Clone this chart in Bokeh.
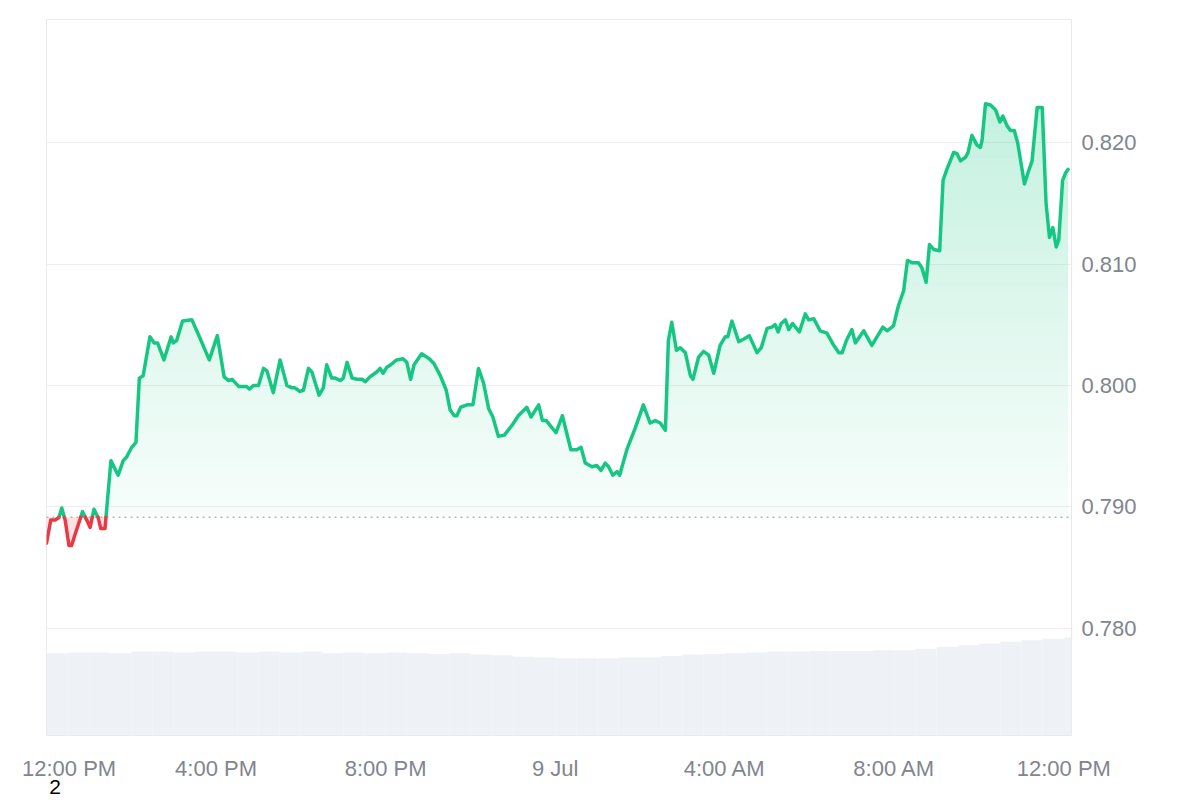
import numpy as np
from bokeh.plotting import figure
from bokeh.models import Range1d, FixedTicker, Span, NumeralTickFormatter, LinearAxis
from bokeh.embed import file_html
from bokeh.resources import INLINE

# ---------------- data ----------------
# hours since 12:00 PM, 8 Jul
hours = [0.00, 0.10, 0.20, 0.29, 0.36, 0.44, 0.53, 0.59, 0.71, 0.85, 0.95, 1.03, 1.12, 1.22, 1.28, 1.38,
         1.52, 1.69, 1.81, 1.89, 2.01, 2.11, 2.19, 2.28, 2.44, 2.54, 2.62, 2.77, 2.94, 2.99, 3.07, 3.21,
         3.43, 3.62, 3.84, 4.03, 4.19, 4.29, 4.38, 4.54, 4.72, 4.79, 4.88, 5.00, 5.12, 5.20, 5.35, 5.51,
         5.67, 5.79, 5.86, 5.98, 6.06, 6.18, 6.26, 6.43, 6.53, 6.61, 6.73, 6.81, 6.93, 7.00, 7.09, 7.21,
         7.33, 7.45, 7.52, 7.63, 7.79, 7.87, 7.94, 8.03, 8.12, 8.26, 8.41, 8.50, 8.59, 8.67, 8.85, 9.03,
         9.14, 9.29, 9.43, 9.52, 9.62, 9.68, 9.77, 9.92, 10.06, 10.19, 10.31, 10.43, 10.53, 10.66, 10.80, 10.98,
         11.13, 11.33, 11.43, 11.61, 11.70, 11.79, 12.02, 12.17, 12.37, 12.51, 12.61, 12.71, 12.87, 12.98, 13.08, 13.18,
         13.26, 13.36, 13.46, 13.52, 13.69, 13.89, 14.08, 14.24, 14.36, 14.48, 14.60, 14.67, 14.75, 14.86, 14.95, 15.07,
         15.19, 15.25, 15.38, 15.50, 15.62, 15.74, 15.89, 16.01, 16.07, 16.17, 16.33, 16.44, 16.58, 16.76, 16.86, 17.00,
         17.11, 17.19, 17.26, 17.33, 17.43, 17.51, 17.60, 17.76, 17.90, 17.98, 18.10, 18.25, 18.41, 18.57, 18.69, 18.77,
         18.87, 19.00, 19.08, 19.28, 19.47, 19.59, 19.73, 19.83, 19.98, 20.10, 20.22, 20.31, 20.42, 20.57, 20.65, 20.75,
         20.83, 20.93, 21.07, 21.15, 21.24, 21.40, 21.48, 21.56, 21.68, 21.74, 21.83, 21.95, 22.03, 22.07, 22.15, 22.27,
         22.39, 22.49, 22.56, 22.66, 22.74, 22.83, 22.91, 23.07, 23.17, 23.25, 23.37, 23.49, 23.58, 23.66, 23.74, 23.82,
         23.88, 23.97, 24.04, 24.10]

price = [0.7870, 0.7889, 0.7889, 0.7891, 0.7899, 0.7889, 0.7868, 0.7868, 0.7881, 0.7896, 0.7889, 0.7883, 0.7898, 0.7891, 0.7882, 0.7882,
         0.7938, 0.7926, 0.7938, 0.7941, 0.7949, 0.7953, 0.8006, 0.8008, 0.8040, 0.8035, 0.8035, 0.8021, 0.8040, 0.8035, 0.8037, 0.8053,
         0.8054, 0.8039, 0.8021, 0.8041, 0.8007, 0.8004, 0.8005, 0.7999, 0.7999, 0.7997, 0.8000, 0.8000, 0.8014, 0.8012, 0.7994, 0.8021,
         0.8000, 0.7998, 0.7998, 0.7995, 0.7996, 0.8014, 0.8011, 0.7992, 0.7998, 0.8017, 0.8006, 0.8006, 0.8004, 0.8006, 0.8019, 0.8006,
         0.8005, 0.8005, 0.8003, 0.8007, 0.8011, 0.8014, 0.8010, 0.8015, 0.8017, 0.8021, 0.8022, 0.8019, 0.8005, 0.8017, 0.8026, 0.8022,
         0.8018, 0.8008, 0.7996, 0.7980, 0.7975, 0.7975, 0.7982, 0.7984, 0.7984, 0.8014, 0.8002, 0.7981, 0.7974, 0.7958, 0.7959, 0.7967,
         0.7975, 0.7982, 0.7974, 0.7984, 0.7971, 0.7971, 0.7961, 0.7975, 0.7947, 0.7947, 0.7949, 0.7936, 0.7933, 0.7934, 0.7930, 0.7936,
         0.7933, 0.7926, 0.7929, 0.7926, 0.7947, 0.7965, 0.7984, 0.7969, 0.7971, 0.7969, 0.7963, 0.8037, 0.8052, 0.8029, 0.8031, 0.8027,
         0.8008, 0.8005, 0.8023, 0.8028, 0.8025, 0.8010, 0.8033, 0.8040, 0.8040, 0.8053, 0.8036, 0.8038, 0.8041, 0.8027, 0.8031, 0.8047,
         0.8048, 0.8050, 0.8044, 0.8051, 0.8054, 0.8046, 0.8051, 0.8044, 0.8059, 0.8054, 0.8055, 0.8045, 0.8043, 0.8033, 0.8027, 0.8027,
         0.8037, 0.8046, 0.8035, 0.8045, 0.8033, 0.8040, 0.8048, 0.8045, 0.8049, 0.8066, 0.8078, 0.8103, 0.8101, 0.8101, 0.8097, 0.8085,
         0.8116, 0.8112, 0.8111, 0.8169, 0.8178, 0.8192, 0.8191, 0.8185, 0.8188, 0.8192, 0.8206, 0.8198, 0.8196, 0.8202, 0.8232, 0.8231,
         0.8227, 0.8217, 0.8222, 0.8214, 0.8210, 0.8210, 0.8200, 0.8166, 0.8177, 0.8185, 0.8229, 0.8229, 0.8150, 0.8122, 0.8130, 0.8114,
         0.8120, 0.8169, 0.8175, 0.8178]

open_price = 0.78914   # dotted reference line

# volume (relative units), half-hour bars starting at these hours
vol_start = [i * 0.5 for i in range(49)]
volume = [11.5, 11.6, 11.6, 11.5, 11.7, 11.7, 11.6, 11.7, 11.7, 11.6, 11.7, 11.6, 11.7, 11.5, 11.6, 11.5,
          11.6, 11.5, 11.4, 11.5, 11.3, 11.2, 11.0, 10.9, 10.8, 10.8, 10.8, 10.9, 10.9, 11.1, 11.3, 11.4,
          11.5, 11.6, 11.7, 11.7, 11.8, 11.8, 11.8, 11.9, 11.9, 12.1, 12.4, 12.6, 12.8, 13.1, 13.3, 13.5, 13.7]

y_ticks = [0.780, 0.790, 0.800, 0.810, 0.820]
# label positions in minutes after 12:00 PM (the first label sits a little right of its time,
# as in the original, so that it is not cut at the edge)
tick_minutes = [32, 240, 480, 720, 960, 1200, 1440]
tick_labels = ["12:00 PM", "4:00 PM", "8:00 PM", "9 Jul", "4:00 AM", "8:00 AM", "12:00 PM"]
footnote_minute = 12
footnote = "2"

GREEN = "#16c784"
RED = "#ea3943"
LABEL_GREY = "#80858f"
FONT = "Liberation Sans"

minutes = [h * 60 for h in hours]

# ---------------- helpers ----------------
def with_crossings(xs, ys, level):
    ox, oy = [xs[0]], [ys[0]]
    for i in range(1, len(xs)):
        x0, y0, x1, y1 = xs[i - 1], ys[i - 1], xs[i], ys[i]
        if (y0 - level) * (y1 - level) < 0:
            t = (level - y0) / (y1 - y0)
            ox.append(x0 + t * (x1 - x0))
            oy.append(level)
        ox.append(x1)
        oy.append(y1)
    return ox, oy

# ---------------- figure ----------------
p = figure(width=1200, height=800, output_backend="svg", toolbar_location=None,
           x_range=Range1d(0, 1450.8), y_range=Range1d(0.771153, 0.830148),
           y_axis_location="right",
           min_border_left=46, min_border_right=129, min_border_top=19, min_border_bottom=65)
p.extra_y_ranges = {"vol": Range1d(0, 100)}
p.background_fill_color = "white"
p.border_fill_color = "white"
p.outline_line_color = "#e9e9e9"
p.outline_line_width = 1

# volume
p.vbar(x=[(h + 0.25) * 60 for h in vol_start], width=30, top=volume, bottom=0,
       y_range_name="vol", fill_color="#eef1f6", line_color=None)

# green vertical-gradient fill above the open price: disjoint horizontal bands
top_level = 0.8302
band = 0.0005
levels = np.arange(open_price, top_level, band)
for L in levels:
    lo, hi = L, L + band
    xk, yk = with_crossings(minutes, price, lo)
    xk, yk = with_crossings(xk, yk, hi)
    yk = np.clip(np.array(yk), lo, hi)
    a = 0.03 + 0.27 * ((lo + band / 2) - open_price) / (top_level - open_price)
    p.varea(x=np.array(xk), y1=np.full(len(xk), lo), y2=yk,
            fill_color=GREEN, fill_alpha=a)

# red fill below the open price
xb, yb = with_crossings(minutes, price, open_price)
xb, yb = np.array(xb), np.array(yb)
p.varea(x=xb, y1=np.minimum(yb, open_price), y2=np.full(len(xb), open_price),
        fill_color=RED, fill_alpha=0.14)

# dotted open-price line
p.add_layout(Span(location=open_price, dimension="width", line_color="#8f949c",
                  line_dash="2 4", line_width=1))

# price line, coloured by side of the open price
eps = 1e-12
green_y = np.where(yb >= open_price - eps, yb, np.nan)
red_y = np.where(yb <= open_price + eps, yb, np.nan)
p.line(xb, green_y, line_color=GREEN, line_width=3.5, line_join="round", line_cap="round")
p.line(xb, red_y, line_color=RED, line_width=3.5, line_join="round", line_cap="round")

# axes
p.yaxis.ticker = FixedTicker(ticks=y_ticks)
p.yaxis.formatter = NumeralTickFormatter(format="0.000")
p.ygrid.ticker = FixedTicker(ticks=y_ticks)
p.ygrid.grid_line_color = "#efefef"
p.xgrid.visible = False

p.xaxis.ticker = FixedTicker(ticks=tick_minutes)
p.xaxis.major_label_overrides = {m: lab for m, lab in zip(tick_minutes, tick_labels)}

# second axis row below, carrying the stray "2"
foot_axis = LinearAxis(ticker=FixedTicker(ticks=[footnote_minute]),
                       major_label_overrides={footnote_minute: footnote})
p.add_layout(foot_axis, "below")

for ax in (p.xaxis[0], p.yaxis[0], foot_axis):
    ax.axis_line_color = None
    ax.major_tick_line_color = None
    ax.minor_tick_line_color = None
    ax.major_tick_out = 0
    ax.major_tick_in = 0
    ax.major_label_text_color = LABEL_GREY
    ax.major_label_text_font = FONT
    ax.major_label_text_font_size = "22px"
p.yaxis.major_label_standoff = 10
p.xaxis[0].major_label_standoff = 20
foot_axis.major_label_text_color = "black"
foot_axis.major_label_text_font_size = "21px"
foot_axis.major_label_standoff = -4

open("out.html", "w").write(file_html(p, INLINE))
